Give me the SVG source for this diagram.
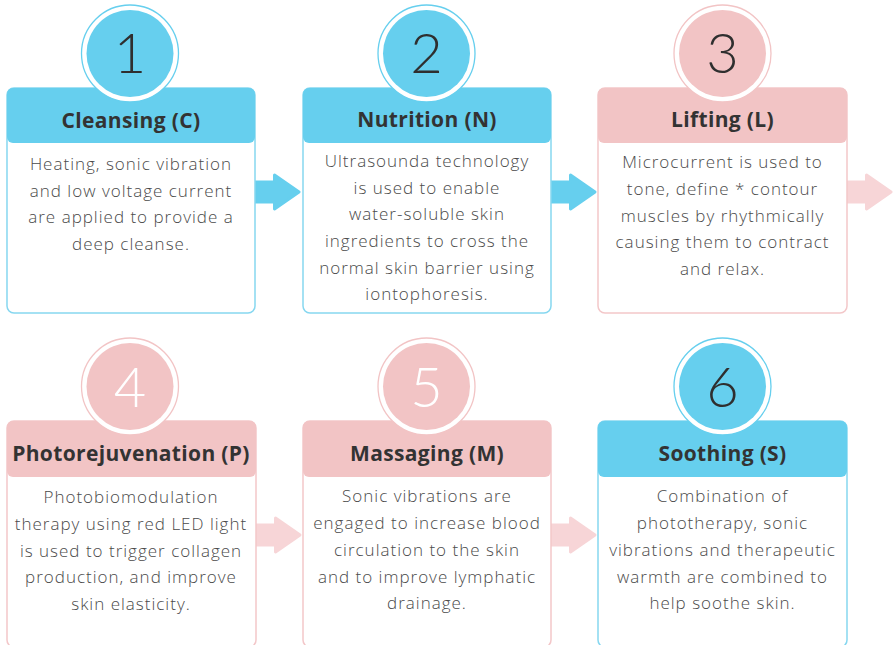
<svg xmlns="http://www.w3.org/2000/svg" width="893" height="645" viewBox="0 0 893 645">
<defs>
<style>
.card{fill:#ffffff;stroke-width:1.5}
.blue .card{stroke:#86d7f0}
.pink .card{stroke:#f3c7c9}
.blue .hdr{fill:#66cfee}
.pink .hdr{fill:#f2c4c5}
.ring{fill:#ffffff;stroke-width:1.3}
.blue .ring{stroke:#66cfee}
.pink .ring{stroke:#f2c4c5}
.blue .disc{fill:#66cfee}
.pink .disc{fill:#f2c4c5}
.num{font-family:Lato,"Liberation Sans",sans-serif;font-weight:300;font-size:56px;text-anchor:middle;fill:#2f2f2f}
.num.w{fill:#ffffff}
.title{font-family:"Open Sans","Liberation Sans",sans-serif;font-weight:700;font-size:21px;letter-spacing:0.35px;text-anchor:middle;fill:#333333}
.body{font-family:"Open Sans","Liberation Sans",sans-serif;font-weight:300;font-size:17px;letter-spacing:1px;text-anchor:middle;fill:#4a4a4a}
.ab{fill:#66cfee;stroke:#66cfee}
.ap{fill:#f7d5d7;stroke:#f7d5d7}
</style>
<path id="arrow" d="M0,-10 H19.5 V-17 L44,0 L19.5,17 V10 H0 Z" stroke-width="3" stroke-linejoin="round"/>
</defs>

<g id="connectors">
<use href="#arrow" class="ab" x="255" y="192"/>
<use href="#arrow" class="ab" x="551" y="192"/>
<use href="#arrow" class="ap" x="847" y="192"/>
<use href="#arrow" class="ap" x="256" y="535"/>
<use href="#arrow" class="ap" x="551" y="535"/>
</g>

<g id="step1" class="blue">
<rect class="card" x="7" y="88" width="248" height="225" rx="7"/>
<rect class="hdr" x="7" y="88" width="248" height="55" rx="6"/>
<circle class="ring" cx="130" cy="53.5" r="48.5"/>
<circle class="disc" cx="130" cy="53.5" r="43.5"/>
<text class="num" x="130" y="73">1</text>
<text class="title" x="131" y="128">Cleansing (C)</text>
<text class="body" x="131"><tspan x="131" y="170">Heating, sonic vibration</tspan><tspan x="131" y="197">and low voltage current</tspan><tspan x="131" y="223">are applied to provide a</tspan><tspan x="131" y="250">deep cleanse.</tspan></text>
</g>

<g id="step2" class="blue">
<rect class="card" x="303" y="88" width="248" height="225" rx="7"/>
<rect class="hdr" x="303" y="88" width="248" height="55" rx="6"/>
<circle class="ring" cx="426.5" cy="53.5" r="48.5"/>
<circle class="disc" cx="426.5" cy="53.5" r="43.5"/>
<text class="num" x="426.5" y="73">2</text>
<text class="title" x="427" y="127">Nutrition (N)</text>
<text class="body"><tspan x="427" y="167">Ultrasounda technology</tspan><tspan x="427" y="194">is used to enable</tspan><tspan x="427" y="220">water-soluble skin</tspan><tspan x="427" y="247">ingredients to cross the</tspan><tspan x="427" y="274">normal skin barrier using</tspan><tspan x="427" y="300">iontophoresis.</tspan></text>
</g>

<g id="step3" class="pink">
<rect class="card" x="598" y="88" width="249" height="225" rx="7"/>
<rect class="hdr" x="598" y="88" width="249" height="55" rx="6"/>
<circle class="ring" cx="722.5" cy="53.5" r="48.5"/>
<circle class="disc" cx="722.5" cy="53.5" r="43.5"/>
<text class="num" x="722.5" y="73">3</text>
<text class="title" x="722.5" y="127">Lifting (L)</text>
<text class="body"><tspan x="722.5" y="168">Microcurrent is used to</tspan><tspan x="722.5" y="195">tone, define * contour</tspan><tspan x="722.5" y="222">muscles by rhythmically</tspan><tspan x="722.5" y="248">causing them to contract</tspan><tspan x="722.5" y="275">and relax.</tspan></text>
</g>

<g id="step4" class="pink">
<rect class="card" x="7" y="421" width="249" height="226" rx="7"/>
<rect class="hdr" x="7" y="421" width="249" height="56" rx="6"/>
<circle class="ring" cx="130" cy="386.5" r="48.5"/>
<circle class="disc" cx="130" cy="386.5" r="43.5"/>
<text class="num w" x="130" y="407">4</text>
<text class="title" x="131" y="461">Photorejuvenation (P)</text>
<text class="body"><tspan x="131" y="503">Photobiomodulation</tspan><tspan x="131" y="530">therapy using red LED light</tspan><tspan x="131" y="557">is used to trigger collagen</tspan><tspan x="131" y="583">production, and improve</tspan><tspan x="131" y="610">skin elasticity.</tspan></text>
</g>

<g id="step5" class="pink">
<rect class="card" x="303" y="421" width="248" height="226" rx="7"/>
<rect class="hdr" x="303" y="421" width="248" height="56" rx="6"/>
<circle class="ring" cx="426.5" cy="386.5" r="48.5"/>
<circle class="disc" cx="426.5" cy="386.5" r="43.5"/>
<text class="num w" x="426.5" y="407">5</text>
<text class="title" x="427" y="461">Massaging (M)</text>
<text class="body"><tspan x="427" y="502">Sonic vibrations are</tspan><tspan x="427" y="529">engaged to increase blood</tspan><tspan x="427" y="556">circulation to the skin</tspan><tspan x="427" y="583">and to improve lymphatic</tspan><tspan x="427" y="609">drainage.</tspan></text>
</g>

<g id="step6" class="blue">
<rect class="card" x="598" y="421" width="249" height="226" rx="7"/>
<rect class="hdr" x="598" y="421" width="249" height="56" rx="6"/>
<circle class="ring" cx="722.5" cy="386.5" r="48.5"/>
<circle class="disc" cx="722.5" cy="386.5" r="43.5"/>
<text class="num" x="722.5" y="407">6</text>
<text class="title" x="722.5" y="461">Soothing (S)</text>
<text class="body"><tspan x="722.5" y="502">Combination of</tspan><tspan x="722.5" y="529">phototherapy, sonic</tspan><tspan x="722.5" y="556">vibrations and therapeutic</tspan><tspan x="722.5" y="583">warmth are combined to</tspan><tspan x="722.5" y="609">help soothe skin.</tspan></text>
</g>
</svg>
